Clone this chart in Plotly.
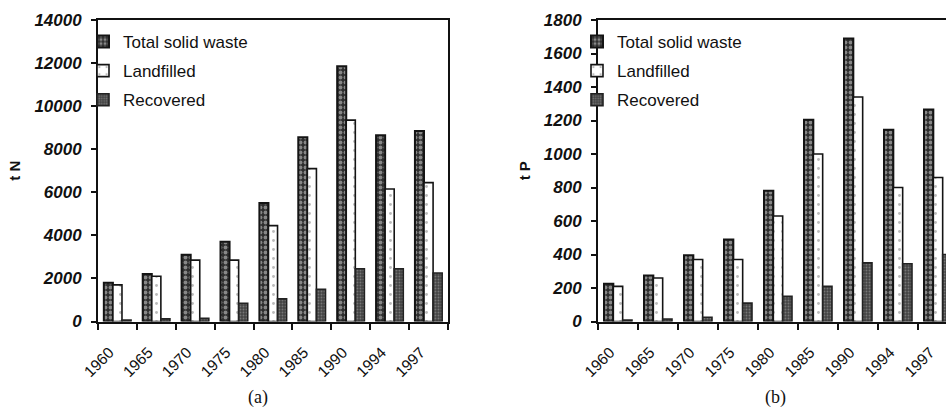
import plotly.graph_objects as go

years = ["1960", "1965", "1970", "1975", "1980", "1985", "1990", "1994", "1997"]

# Nitrogen in municipal solid waste (t N)
n_total = [1800, 2200, 3100, 3700, 5500, 8550, 11850, 8650, 8850]
n_landfilled = [1700, 2100, 2850, 2850, 4450, 7100, 9350, 6150, 6450]
n_recovered = [70, 120, 150, 850, 1050, 1500, 2450, 2450, 2250]

# Phosphorus in municipal solid waste (t P)
p_total = [225, 275, 395, 490, 780, 1205, 1690, 1145, 1265]
p_landfilled = [210, 260, 370, 370, 630, 1000, 1340, 800, 860]
p_recovered = [8, 15, 25, 110, 150, 210, 350, 345, 400]

series_names = ["Total solid waste", "Landfilled", "Recovered"]

W, H = 946, 409
FONT = "Liberation Sans, Arial, sans-serif"

styles = [
    dict(pattern=dict(shape=".", bgcolor="#2e2e2e", fgcolor="#e0e0e0", size=5, solidity=0.45),
         line=dict(color="#141414", width=2)),
    dict(pattern=dict(shape=".", bgcolor="#ffffff", fgcolor="#777777", size=9, solidity=0.08),
         line=dict(color="#141414", width=1.6)),
    dict(pattern=dict(shape=".", bgcolor="#444444", fgcolor="#a8a8a8", size=3, solidity=0.3),
         line=dict(color="#222222", width=1.6)),
]

fig = go.Figure()

panels = [
    ("x", "y", "legend", [n_total, n_landfilled, n_recovered]),
    ("x2", "y2", "legend2", [p_total, p_landfilled, p_recovered]),
]
for xa, ya, leg, values in panels:
    for i, (name, vals) in enumerate(zip(series_names, values)):
        st = styles[i]
        fig.add_trace(go.Bar(
            x=years, y=vals, name=name, xaxis=xa, yaxis=ya, legend=leg,
            legendgroup=f"{leg}-{i}",
            marker=dict(color=st["pattern"]["bgcolor"], pattern=st["pattern"], line=st["line"]),
        ))

y_dom = [1 - 321.5 / H, 1 - 20 / H]
ytick_font = dict(family=FONT, size=17, color="#111", weight="bold", style="italic")
xtick_font = dict(family=FONT, size=15.5, color="#111")
ytitle_font = dict(family=FONT, size=15, color="#111", weight="bold")

common_x = dict(
    type="category", tickson="boundaries", ticks="outside", ticklen=7, tickwidth=1.5,
    tickcolor="#111", showline=True, linecolor="#111", linewidth=1.8,
    tickangle=-45, tickfont=xtick_font, showgrid=False, ticklabelstandoff=14,
    ticklabelshift=-8, automargin=False,
)
common_y = dict(
    ticks="outside", ticklen=5, tickwidth=1.5, tickcolor="#111",
    showline=True, linecolor="#111", linewidth=1.8, tickfont=ytick_font,
    showgrid=False, zeroline=False, ticklabelstandoff=6, tickformat="d",
    automargin=False,
)

fig.update_layout(
    width=W, height=H,
    margin=dict(l=0, r=0, t=0, b=0),
    paper_bgcolor="white", plot_bgcolor="white",
    barmode="group", bargap=0.3, bargroupgap=0,
    font=dict(family=FONT, color="#111"),
    xaxis=dict(common_x, domain=[98 / W, 448 / W], anchor="y", mirror=True,
               range=[-0.5, 8.5]),
    yaxis=dict(common_y, domain=y_dom, anchor="x", mirror=True,
               range=[0, 14000], dtick=2000,
               title=dict(text="t N", font=ytitle_font, standoff=10)),
    xaxis2=dict(common_x, domain=[598 / W, 1.0], anchor="y2", mirror=True,
                range=[-0.5, 8.2]),
    yaxis2=dict(common_y, domain=y_dom, anchor="x2", mirror=False,
                range=[0, 1800], dtick=200,
                title=dict(text="t P", font=ytitle_font, standoff=10)),
    legend=dict(x=83 / W, y=1 - 24 / H, xanchor="left", yanchor="top",
                font=dict(family=FONT, size=17, color="#111"),
                bgcolor="rgba(0,0,0,0)", traceorder="grouped", tracegroupgap=4,
                itemwidth=30),
    legend2=dict(x=577 / W, y=1 - 24 / H, xanchor="left", yanchor="top",
                 font=dict(family=FONT, size=17, color="#111"),
                 bgcolor="rgba(0,0,0,0)", traceorder="grouped", tracegroupgap=4,
                 itemwidth=30),
    showlegend=True,
)

caption_font = dict(family="Liberation Serif, Times New Roman, serif", size=18, color="#111")
fig.add_annotation(text="(a)", x=258 / W, y=1 - 397 / H, xref="paper", yref="paper",
                   xanchor="center", yanchor="middle", showarrow=False, font=caption_font)
fig.add_annotation(text="(b)", x=775 / W, y=1 - 397 / H, xref="paper", yref="paper",
                   xanchor="center", yanchor="middle", showarrow=False, font=caption_font)

fig.write_html("out.html")
